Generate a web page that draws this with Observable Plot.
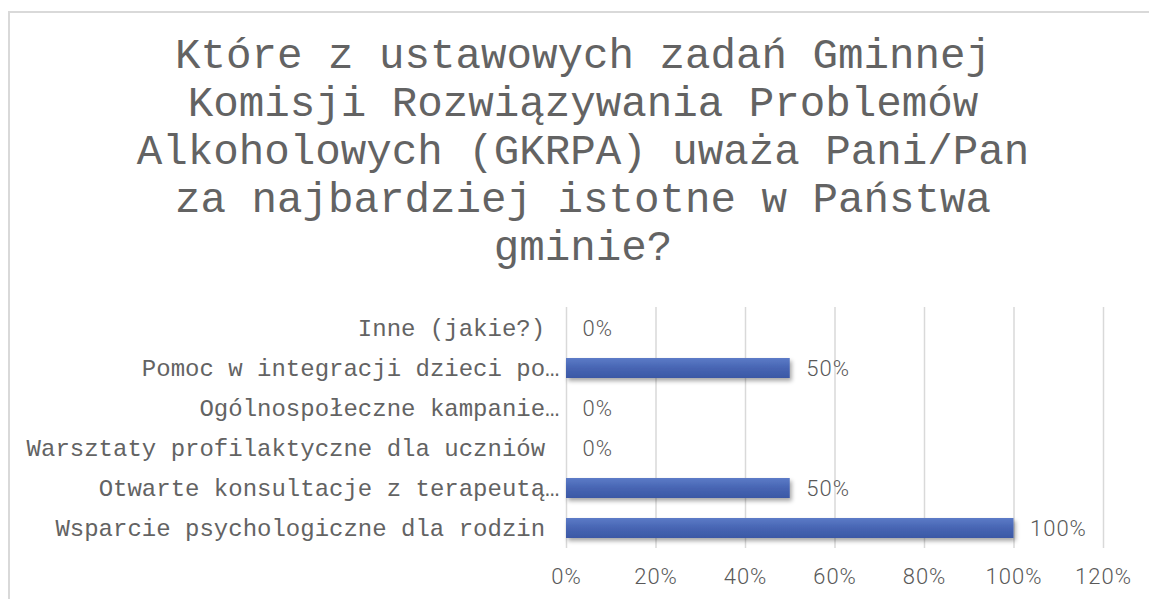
<!DOCTYPE html>
<html>
<head>
<meta charset="utf-8">
<script src="https://cdn.jsdelivr.net/npm/d3@7"></script>
<script src="https://cdn.jsdelivr.net/npm/@observablehq/plot@0.6"></script>
<style>
  html, body { margin: 0; padding: 0; background: #fff; overflow: hidden; }
  #wrap { position: relative; width: 1149px; height: 599px; overflow: hidden; }
  #frame { position: absolute; left: 8px; top: 11px; width: 1300px; height: 800px;
           border-top: 2px solid #d9d9d9; border-left: 2px solid #d9d9d9; box-sizing: border-box; }
  #title { position: absolute; left: 0; top: 33px; width: 1166px; text-align: center;
           font-family: "Liberation Mono", "DejaVu Sans Mono", monospace; font-size: 42.5px;
           line-height: 48px; color: #636363; white-space: pre; }
  #chart { position: absolute; left: 0; top: 290px; }
</style>
</head>
<body>
<div id="wrap">
  <div id="frame"></div>
  <div id="title"></div>
  <div id="chart"></div>
</div>
<script>
const titleLines = [
  "Które z ustawowych zadań Gminnej",
  "Komisji Rozwiązywania Problemów",
  "Alkoholowych (GKRPA) uważa Pani/Pan",
  "za najbardziej istotne w Państwa",
  "gminie?"
];
const categories = [
  "Inne (jakie?)",
  "Pomoc w integracji dzieci po…",
  "Ogólnospołeczne kampanie…",
  "Warsztaty profilaktyczne dla uczniów",
  "Otwarte konsultacje z terapeutą…",
  "Wsparcie psychologiczne dla rodzin"
];
const values = [0, 50, 0, 0, 50, 100];
const xTicks = [0, 20, 40, 60, 80, 100, 120];

document.getElementById("title").textContent = titleLines.join("\n");

const data = categories.map((c, i) => ({category: c, value: values[i]}));

const numFont = "Roboto, 'Open Sans', sans-serif";
const monoFont = "'Liberation Mono', 'DejaVu Sans Mono', monospace";

const svg = Plot.plot({
  width: 1149,
  height: 309,
  marginLeft: 566,
  marginRight: 46,
  marginTop: 17,
  marginBottom: 51,
  style: {background: "transparent", color: "#595959"},
  x: {domain: [0, 120], label: null},
  y: {domain: categories, paddingInner: 0.5, paddingOuter: 0.25, label: null},
  marks: [
    Plot.gridX(xTicks, {stroke: "#d9d9d9", strokeOpacity: 1, strokeWidth: 1.5}),
    Plot.axisX({ticks: xTicks, tickSize: 0, tickPadding: 20, tickFormat: d => d + "%",
      fontSize: 22, fontFamily: numFont, fontWeight: 300, fill: "#595959", label: null}),
    Plot.axisY({tickSize: 0, tickPadding: 7,
      tickFormat: d => d.endsWith("…") ? d : d + "\u00a0",
      fontSize: 24, fontFamily: monoFont, fill: "#636363", label: null}),
    Plot.barX(data, {x: "value", y: "category", fill: "url(#barGrad)"}),
    Plot.text(data, {x: "value", y: "category", text: d => d.value + "%",
      textAnchor: "start", dx: 16, fontSize: 22, fontFamily: numFont, fontWeight: 300, fill: "#595959"})
  ]
});

const s = d3.select(svg);
const defs = s.insert("defs", ":first-child");
const g = defs.append("linearGradient").attr("id", "barGrad")
  .attr("x1", 0).attr("y1", 0).attr("x2", 0).attr("y2", 1);
g.append("stop").attr("offset", "0%").attr("stop-color", "#5c7bc7");
g.append("stop").attr("offset", "50%").attr("stop-color", "#4765b3");
g.append("stop").attr("offset", "100%").attr("stop-color", "#3b58a5");
const f = defs.append("filter").attr("id", "shadow")
  .attr("x", "-5%").attr("y", "-30%").attr("width", "115%").attr("height", "190%");
f.append("feDropShadow").attr("dx", 2).attr("dy", 3).attr("stdDeviation", 2.2)
  .attr("flood-color", "#000").attr("flood-opacity", 0.35);
s.select('g[aria-label="bar"]').attr("filter", "url(#shadow)");
s.selectAll('g[aria-label="x-axis tick label"] text, g[aria-label="text"] text').style("letter-spacing", "1px");

document.getElementById("chart").appendChild(svg);
</script>
</body>
</html>
